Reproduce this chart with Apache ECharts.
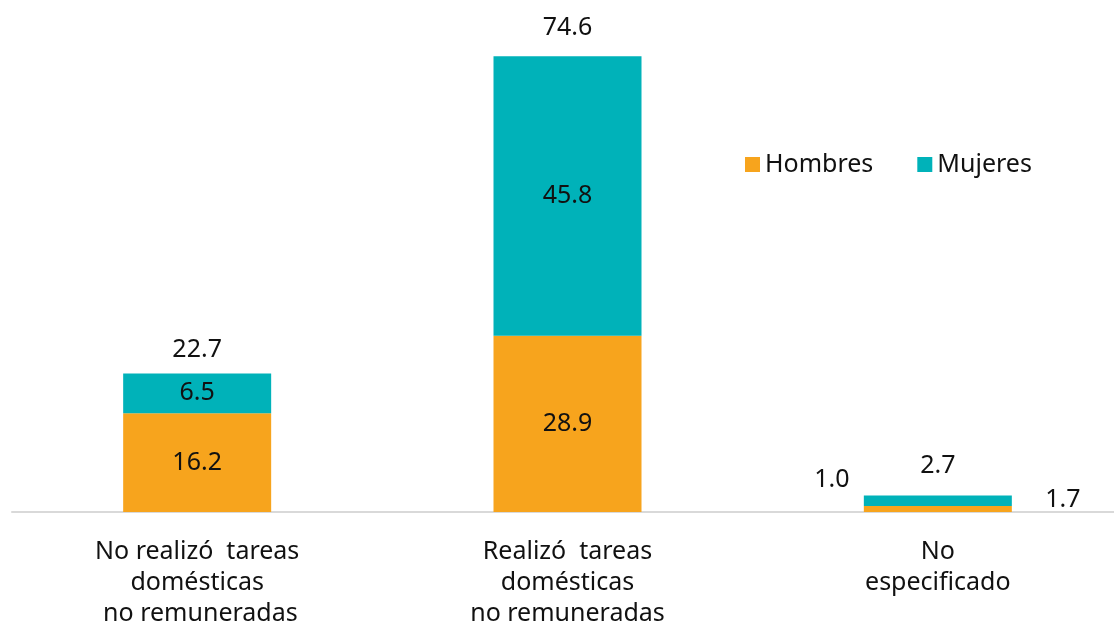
<!DOCTYPE html>
<html><head><meta charset="utf-8">
<script src="https://cdn.jsdelivr.net/npm/echarts@6/dist/echarts.min.js"></script>
<style>html,body{margin:0;padding:0;background:#fff}#c{width:1114px;height:626px}</style>
</head><body><div id="c"></div>
<script>
const categories = ['No realizó  tareas\ndomésticas\n no remuneradas', 'Realizó  tareas\ndomésticas\nno remuneradas', 'No\nespecificado'];
const hombres = [16.2, 28.9, 1.0];
const mujeres = [6.5, 45.8, 1.7];
const totales = [22.7, 74.6, 2.7];

const FONT = '"Noto Sans", sans-serif';
const FS = 25;
const chart = echarts.init(document.getElementById('c'));
const lbl = {show: true, position: 'inside', color: '#111', fontSize: FS, fontFamily: FONT, formatter: p => p.value.toFixed(1)};

chart.setOption({
  animation: false,
  grid: {left: 12, right: -9, top: 24, bottom: 114, outerBoundsMode: 'none', containLabel: false},
  legend: {
    data: ['Hombres', 'Mujeres'], left: 740, top: 147, itemWidth: 15, itemHeight: 15, itemGap: 44,
    icon: 'rect', textStyle: {fontSize: FS, fontFamily: FONT, color: '#111'}
  },
  xAxis: {
    type: 'category', data: categories,
    axisLine: {lineStyle: {color: '#d9d9d9', width: 2}}, axisTick: {show: false},
    axisLabel: {fontSize: FS, fontFamily: FONT, color: '#111', lineHeight: 31, margin: 24}
  },
  yAxis: {type: 'value', min: 0, max: 80, show: false, splitLine: {show: false}},
  series: [
    {name: 'Hombres', type: 'bar', stack: 's', barWidth: 148, itemStyle: {color: '#F7A41D'},
     data: hombres.map((v, i) => i === 2 ? {value: v, label: {position: 'inside', offset: [-106, -29]}} : v), label: lbl},
    {name: 'Mujeres', type: 'bar', stack: 's', itemStyle: {color: '#00B2B9'},
     data: mujeres.map((v, i) => i === 2 ? {value: v, label: {position: 'inside', offset: [125, -1]}} : v), label: lbl},
    {name: 'Total', type: 'scatter', symbolSize: 0, silent: true,
     itemStyle: {opacity: 1, color: 'transparent'},
     data: totales.map((v, i) => i === 0 ? {value: v, label: {distance: 11}} : v),
     label: {show: true, position: 'top', distance: 17, color: '#111', fontSize: FS, fontFamily: FONT, formatter: p => p.value.toFixed(1)}}
  ]
});
</script></body></html>
